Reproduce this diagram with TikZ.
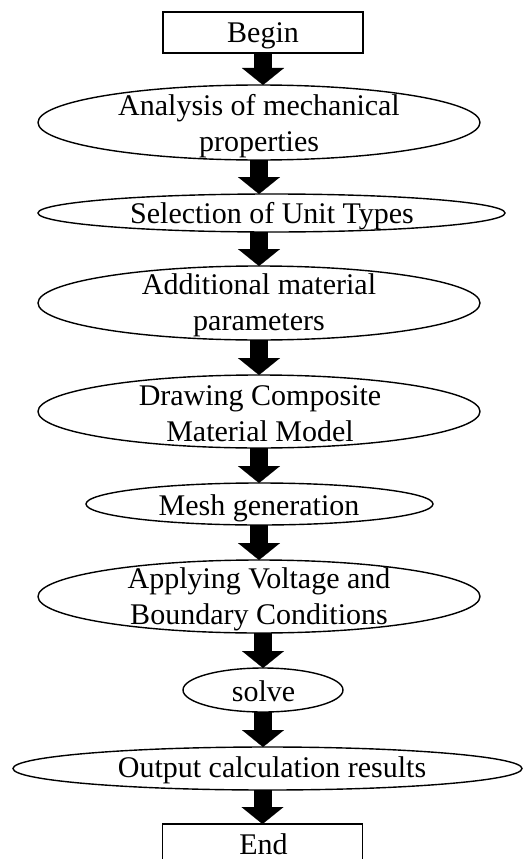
\documentclass[tikz,border=0pt]{standalone}
\usepackage{fontspec}
\setmainfont{Liberation Serif}
\usetikzlibrary{shapes.geometric,arrows.meta}

\tikzset{
  x=1pt, y=-1pt,
  stage/.style 2 args={ellipse, draw, line width=1.4pt, inner sep=0pt, outer sep=0pt,
    minimum width=#1, minimum height=#2},
  endbox/.style={rectangle, draw, line width=1.4pt, inner sep=0pt, outer sep=0pt,
    minimum width=200, minimum height=41},
  lbl/.style={anchor=base, align=center, inner sep=0pt,
    font=\fontsize{30}{35.5}\selectfont},
  flow/.style={line width=18pt,
    -{Triangle[width=42pt, length=17pt, line width=0.1pt]}},
}

\begin{document}
\begin{tikzpicture}
  \clip (0,0) rectangle (531,859);
  \fill[white] (0,0) rectangle (531,859);

  % shapes of the flow chart
  \node[endbox] (begin) at (263,32.5) {};
  \node[stage={442}{75}] (anal) at (259,122.5) {};
  \node[stage={467}{38}] (unit) at (271.5,213) {};
  \node[stage={442}{74}] (param) at (259,303) {};
  \node[stage={442}{73}] (model) at (259,411.5) {};
  \node[stage={347}{42}] (mesh) at (259.5,504) {};
  \node[stage={442}{73}] (volt) at (259,596.5) {};
  \node[stage={160}{44}] (solve) at (263,690) {};
  \node[stage={509}{43}] (out) at (267.5,768.5) {};
  \node[endbox] (end) at (262.5,844.5) {};

  % block arrows between the steps
  \draw[flow] (begin.south) -- (begin.south |- anal.north);
  \draw[flow] (anal.south) -- (anal.south |- unit.north);
  \draw[flow] (param.north |- unit.south) -- (param.north);
  \draw[flow] (param.south) -- (model.north);
  \draw[flow] (model.south) -- (model.south |- mesh.north);
  \draw[flow] (volt.north |- mesh.south) -- (volt.north);
  \draw[flow] (solve.north |- volt.south) -- (solve.north);
  \draw[flow] (solve.south) -- (solve.south |- out.north);
  \draw[flow] (end.north |- out.south) -- (end.north);

  % labels (base anchor sits on the last line)
  \node[lbl] (tbegin) at (263,43) {Begin};
  \node[lbl] (tanal) at (259,151) {Analysis of mechanical\\properties};
  \node[lbl] (tunit) at (272,223) {Selection of Unit Types};
  \node[lbl] (tparam) at (259,330) {Additional material\\parameters};
  \node[lbl] (tmodel) at (260,441) {Drawing Composite\\Material Model};
  \node[lbl] (tmesh) at (259,515) {Mesh generation};
  \node[lbl] (tvolt) at (259,624) {Applying Voltage and\\Boundary Conditions};
  \node[lbl] (tsolve) at (263.5,701) {solve};
  \node[lbl] (tout) at (272,777) {Output calculation results};
  \node[lbl] (tend) at (263.5,854) {End};
\end{tikzpicture}
\end{document}
